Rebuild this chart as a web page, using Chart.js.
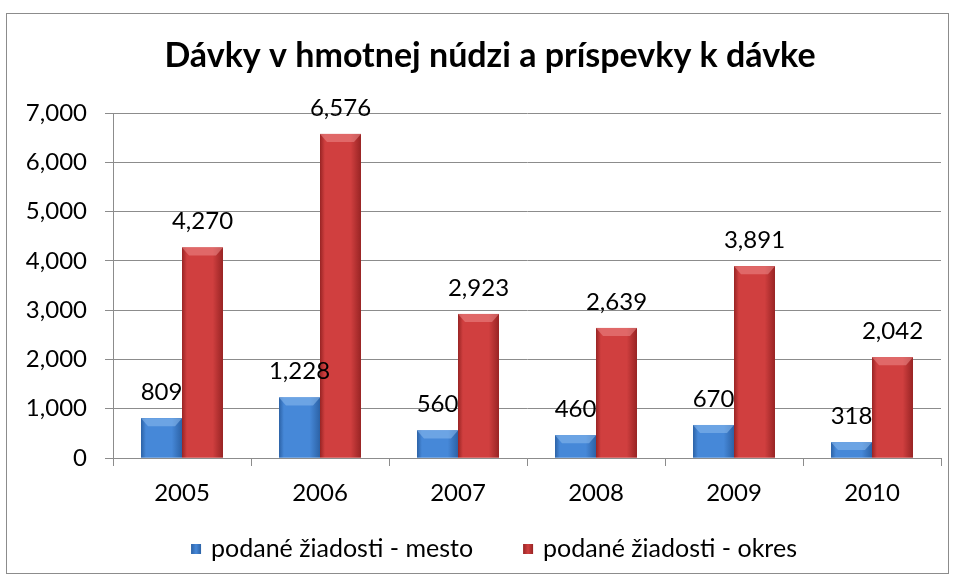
<!DOCTYPE html>
<html>
<head>
<meta charset="utf-8">
<script src="https://cdn.jsdelivr.net/npm/chart.js@4"></script>
<style>
    body { margin: 0; background: #fff; }
    #wrap { width: 957px; height: 581px; }
</style>
</head>
<body>
<div id="wrap"><canvas id="chart"></canvas></div>
<script>
const years = ["2005", "2006", "2007", "2008", "2009", "2010"];
const mesto = [809, 1228, 560, 460, 670, 318];
const okres = [4270, 6576, 2923, 2639, 3891, 2042];
const yTickLabels = ["0", "1,000", "2,000", "3,000", "4,000", "5,000", "6,000", "7,000"];
const titleText = "Dávky v hmotnej núdzi a príspevky k dávke";

const FONT = "Lato, 'Open Sans', sans-serif";

// colours for each series: edge, middle, bevel
const shades = [
    { edge: "#2c62a6", mid: "#4688d8", top: "#8dbbef" },
    { edge: "#982424", mid: "#d03f3f", top: "#ec8a8a" }
];

// frame and title
const framePlugin = {
    id: "frame",
    beforeDraw(chart) {
        const ctx = chart.ctx;
        ctx.save();
        ctx.fillStyle = "#fff";
        ctx.fillRect(0, 0, chart.width, chart.height);
        ctx.strokeStyle = "#8c8c8c";
        ctx.lineWidth = 1;
        ctx.strokeRect(6.5, 13.5, 942, 560);
        ctx.font = "bold 34px " + FONT;
        ctx.fillStyle = "#000";
        ctx.textAlign = "center";
        ctx.textBaseline = "alphabetic";
        ctx.fillText(titleText, 490, 67);
        ctx.restore();
    }
};

// legend under the axis, square markers close to the text
const legendPlugin = {
    id: "bottomLegend",
    afterDraw(chart) {
        const ctx = chart.ctx;
        ctx.save();
        ctx.font = "25px " + FONT;
        ctx.textBaseline = "middle";
        ctx.textAlign = "left";
        const items = chart.data.datasets.map((ds, i) => ({ text: ds.label, s: shades[i] }));
        const widths = items.map(it => 20 + ctx.measureText(it.text).width);
        const total = widths.reduce((a, b) => a + b, 0) + 50 * (items.length - 1);
        let x = 494 - total / 2;
        const y = 549;
        items.forEach((it, i) => {
            const g = ctx.createLinearGradient(x, 0, x + 10, 0);
            g.addColorStop(0, it.s.edge);
            g.addColorStop(0.5, it.s.mid);
            g.addColorStop(1, it.s.edge);
            ctx.fillStyle = g;
            ctx.fillRect(x, y - 5, 10, 10);
            ctx.fillStyle = "#000";
            ctx.fillText(it.text, x + 20, y);
            x += widths[i] + 50;
        });
        ctx.restore();
    }
};

// gradient bars with a small bevel on top, painted over the flat bars
const barStyle = {
    id: "barStyle",
    afterDatasetDraw(chart, args) {
        const ctx = chart.ctx;
        const s = shades[args.index];
        ctx.save();
        args.meta.data.forEach(el => {
            const l = el.x - el.width / 2, r = el.x + el.width / 2, t = el.y, b = el.base;
            const g = ctx.createLinearGradient(l, 0, r, 0);
            g.addColorStop(0, s.edge);
            g.addColorStop(0.12, s.mid);
            g.addColorStop(0.75, s.mid);
            g.addColorStop(1, s.edge);
            ctx.fillStyle = g;
            ctx.fillRect(l, t, r - l, b - t);
            const h = Math.min(8, (b - t) / 2);
            ctx.globalAlpha = 0.55;
            ctx.fillStyle = s.top;
            ctx.beginPath();
            ctx.moveTo(l, t);
            ctx.lineTo(r, t);
            ctx.lineTo(r - 7, t + h);
            ctx.lineTo(l + 7, t + h);
            ctx.closePath();
            ctx.fill();
            ctx.globalAlpha = 1;
        });
        ctx.restore();
    }
};

// value labels above the bars
const valueLabels = {
    id: "valueLabels",
    afterDatasetsDraw(chart) {
        const ctx = chart.ctx;
        ctx.save();
        ctx.font = "24px " + FONT;
        ctx.fillStyle = "#000";
        ctx.textAlign = "center";
        ctx.textBaseline = "middle";
        chart.data.datasets.forEach((ds, i) => {
            chart.getDatasetMeta(i).data.forEach((el, j) => {
                ctx.fillText(ds.data[j].toLocaleString("en-US"), el.x, el.y - 26);
            });
        });
        ctx.restore();
    }
};

new Chart(document.getElementById("chart"), {
    type: "bar",
    data: {
        labels: years,
        datasets: [
            { label: "podané žiadosti - mesto", data: mesto, backgroundColor: shades[0].mid },
            { label: "podané žiadosti - okres", data: okres, backgroundColor: shades[1].mid }
        ]
    },
    options: {
        responsive: true,
        maintainAspectRatio: false,
        animation: false,
        categoryPercentage: 0.594,
        barPercentage: 1.0,
        layout: { padding: { left: 10, right: 16, top: 113, bottom: 50 } },
        plugins: {
            title: { display: false },
            legend: { display: false },
            tooltip: { enabled: false }
        },
        scales: {
            x: {
                grid: { display: true, drawOnChartArea: false, drawTicks: true, tickLength: 8, color: "#8c8c8c" },
                border: { color: "#8c8c8c" },
                ticks: { color: "#000", font: { family: FONT, size: 24 }, padding: 13 },
                afterFit(scale) { scale.height = 73; }
            },
            y: {
                min: 0,
                max: 7000,
                grid: { color: "#8c8c8c", tickLength: 8 },
                border: { color: "#8c8c8c" },
                ticks: {
                    stepSize: 1000,
                    color: "#000",
                    font: { family: FONT, size: 24 },
                    padding: 18,
                    callback: (v, i) => yTickLabels[i]
                },
                afterFit(scale) { scale.width = 103; }
            }
        }
    },
    plugins: [framePlugin, barStyle, valueLabels, legendPlugin]
});
</script>
</body>
</html>
